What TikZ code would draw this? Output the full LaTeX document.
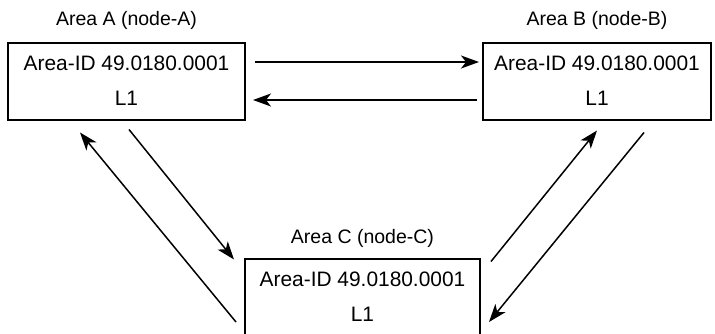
\documentclass[tikz,border=0pt]{standalone}
\usepackage{fontspec}
\setmainfont{Liberation Sans}
\usetikzlibrary{arrows.meta}
\begin{document}
\begin{tikzpicture}[x=1pt,y=-1pt,
  areabox/.style={draw, line width=2pt, minimum height=77pt, inner sep=0pt, align=center,
    font=\fontsize{20.9}{35}\selectfont},
  areatitle/.style={font=\fontsize{19.5}{23}\selectfont, inner sep=0pt},
  link/.style={line width=1.5pt, -{Stealth[length=18pt,width=13pt,inset=5pt]}}]
\useasboundingbox (0,0) rectangle (715,333);
\clip (0,0) rectangle (715,333);
\node[areabox, minimum width=237pt] (A) at (126.5,81) {Area-ID 49.0180.0001\\L1};
\node[areabox, minimum width=228pt] (B) at (597,81) {Area-ID 49.0180.0001\\L1};
\node[areabox, minimum width=235pt] (C) at (362.5,297) {Area-ID 49.0180.0001\\L1};
\node[areatitle] (tA) at (126.5,20) {Area A (node-A)};
\node[areatitle] (tB) at (597,20) {Area B (node-B)};
\node[areatitle] (tC) at (362.5,238) {Area C (node-C)};
\draw[link] ([xshift=9pt,yshift=19pt]A.east) -- ([xshift=-3pt,yshift=19pt]B.west);
\draw[link] ([xshift=-5pt,yshift=-19pt]B.west) -- ([xshift=7pt,yshift=-19pt]A.east);
\draw[link] ([xshift=2.5pt,yshift=-9pt]A.south) -- ([xshift=-10pt,yshift=-2pt]C.north west);
\draw[link] ([xshift=-8pt,yshift=-25pt]C.west) -- ([xshift=73pt,yshift=-12pt]A.south west);
\draw[link] ([xshift=10pt,yshift=-4pt]C.north east) -- ([yshift=-10pt]B.south);
\draw[link] ([xshift=47pt,yshift=-12pt]B.south) -- ([xshift=8pt,yshift=-25pt]C.east);
\end{tikzpicture}
\end{document}
